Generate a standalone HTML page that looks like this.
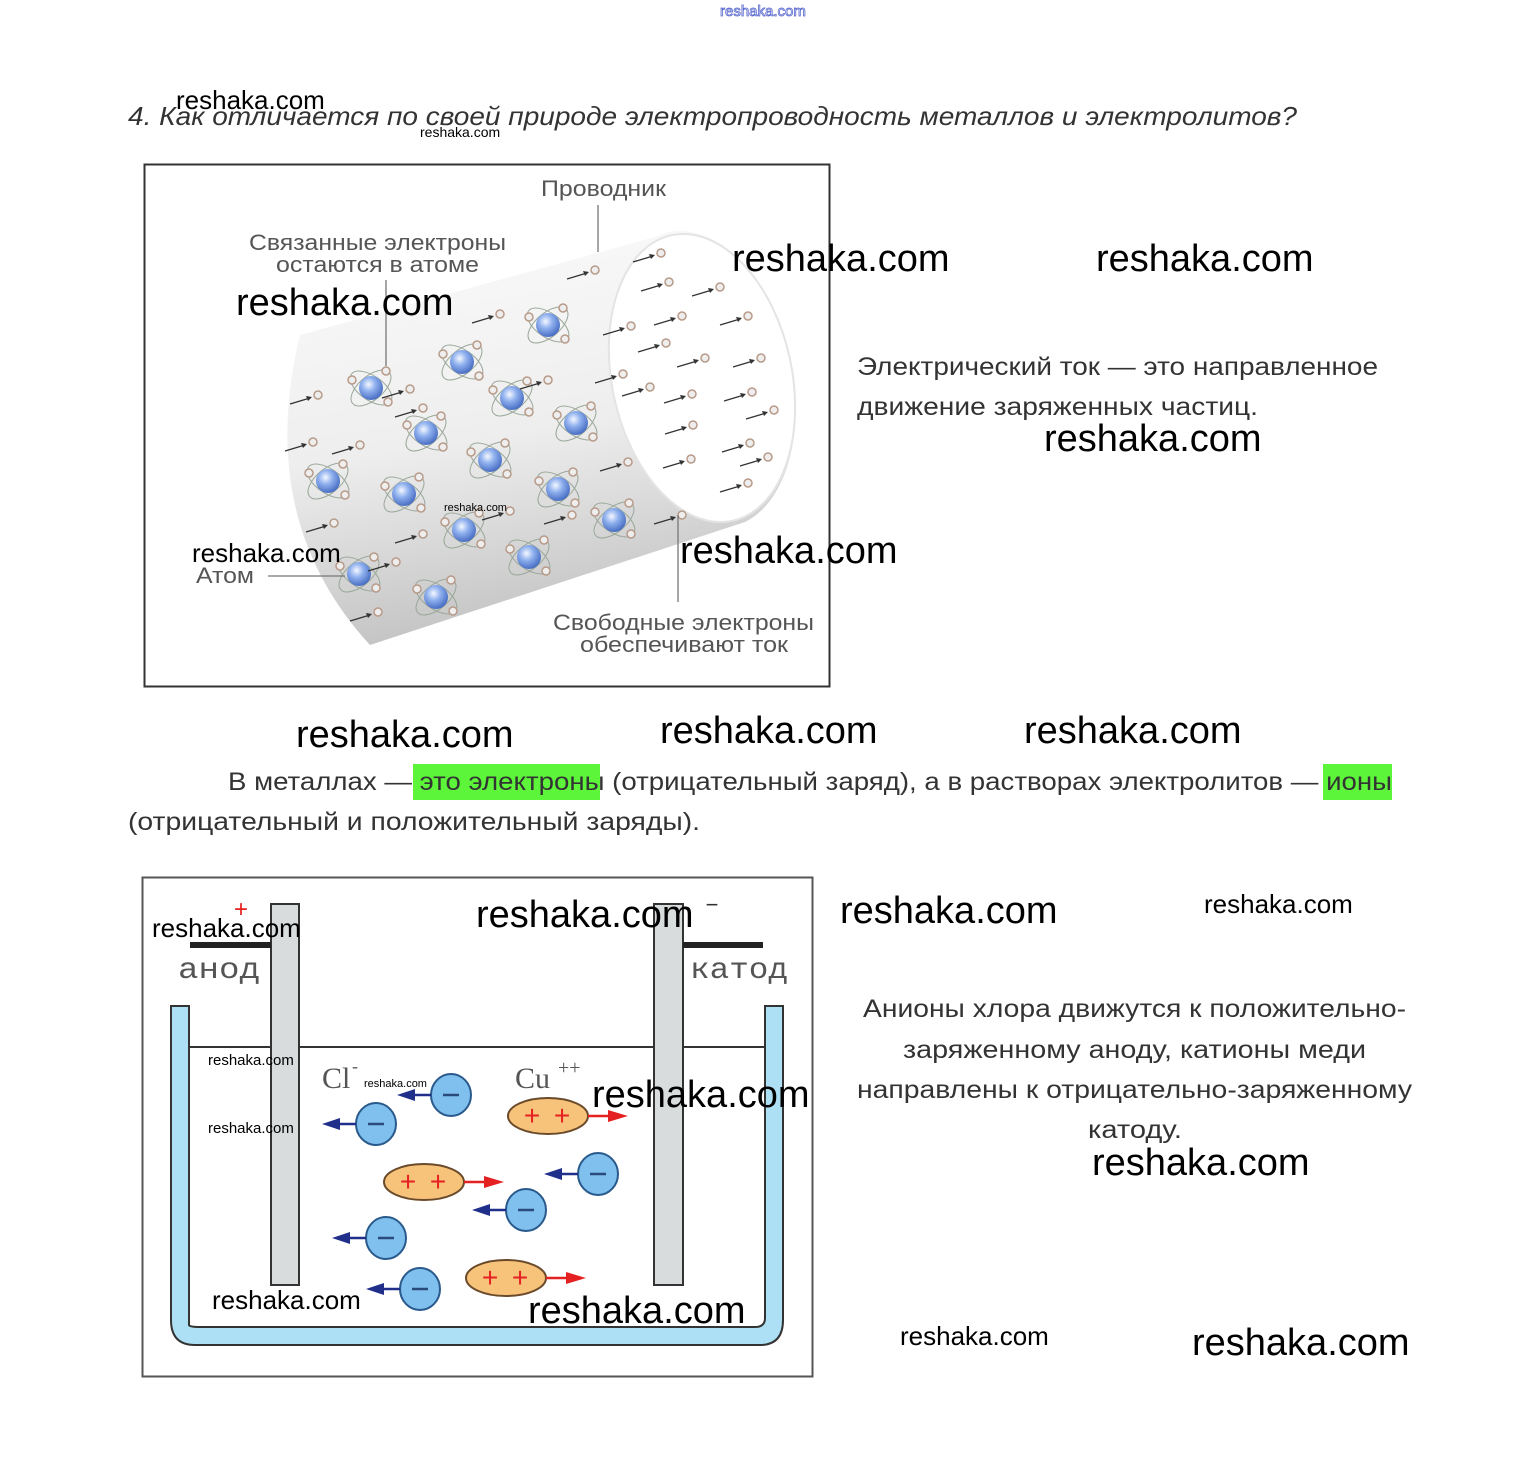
<!DOCTYPE html>
<html><head><meta charset="utf-8"><style>
html,body{margin:0;padding:0;background:#fff;}
svg{display:block;}
.s{font-family:"Liberation Sans",sans-serif;}
.m{font-family:"Liberation Mono",monospace;}
.r{font-family:"Liberation Serif",serif;}
</style></head><body>
<svg width="1537" height="1459" viewBox="0 0 1537 1459" xmlns="http://www.w3.org/2000/svg">
<defs>
<radialGradient id="nuc" cx="40%" cy="35%" r="65%"><stop offset="0" stop-color="#f4f8ff"/><stop offset=".45" stop-color="#8fb0ee"/><stop offset="1" stop-color="#4a6fc4"/></radialGradient>
<linearGradient id="cyl" x1="0" y1="0" x2="0.2" y2="1"><stop offset="0" stop-color="#fbfbfb"/><stop offset=".55" stop-color="#eeeeee"/><stop offset="1" stop-color="#c4c4c4"/></linearGradient>
<g id="atom">
<ellipse cx="0" cy="0" rx="24" ry="12" fill="none" stroke="#9aa89a" stroke-width="1" transform="rotate(35)"/>
<ellipse cx="0" cy="0" rx="24" ry="12" fill="none" stroke="#9aa89a" stroke-width="1" transform="rotate(-40)"/>
<circle r="12" fill="url(#nuc)"/>
<circle cx="-19" cy="-8" r="4" fill="#eee" stroke="#b89a88" stroke-width="1.5"/>
<circle cx="15" cy="-17" r="4" fill="#eee" stroke="#b89a88" stroke-width="1.5"/>
<circle cx="17" cy="14" r="4" fill="#eee" stroke="#b89a88" stroke-width="1.5"/>
</g>
<g id="fe">
<line x1="-30" y1="6" x2="-10" y2="0" stroke="#333" stroke-width="1.3"/>
<path d="M-8,-1 L-14,-2 L-12,3 Z" fill="#333"/>
<circle cx="-2" cy="-3" r="4" fill="#eee" stroke="#b89a88" stroke-width="1.5"/>
</g>
<g id="neg">
<ellipse rx="20" ry="21" fill="#7fc0ee" stroke="#2a5a8c" stroke-width="2"/>
<line x1="-8" y1="0" x2="8" y2="0" stroke="#2a4a7c" stroke-width="2.5"/>
<line x1="-20" y1="0" x2="-40" y2="0" stroke="#1f2f8a" stroke-width="2.5"/>
<path d="M-36,-6 L-54,0 L-36,6 Z" fill="#1f2f8a"/>
</g>
<g id="pos">
<ellipse rx="40" ry="18" fill="#f7c27a" stroke="#6a4a2a" stroke-width="2"/>
<text class="s" x="-16" y="9" font-size="28" fill="#e52020" text-anchor="middle">+</text>
<text class="s" x="14" y="9" font-size="28" fill="#e52020" text-anchor="middle">+</text>
<line x1="40" y1="0" x2="62" y2="0" stroke="#e52020" stroke-width="2.5"/>
<path d="M60,-6 L80,0 L60,6 Z" fill="#e52020"/>
</g>
</defs>
<g class="s">
<text x="720" y="16" font-size="15" fill="#fff" stroke="#5566cc" stroke-width=".8">reshaka.com</text>
<text x="128" y="125" font-size="26" font-style="italic" fill="#333" textLength="1169" lengthAdjust="spacingAndGlyphs">4. Как отличается по своей природе электропроводность металлов и электролитов?</text>

<!-- top diagram -->
<rect x="144.5" y="164.5" width="685" height="522" fill="#fff" stroke="#333" stroke-width="2"/>
<path d="M300,335 L655,237 A92,150 -12 0 1 745,522 L370,645 Q255,520 300,335 Z" fill="url(#cyl)"/>
<ellipse cx="702" cy="378" rx="90" ry="146" transform="rotate(-12 702 378)" fill="#fff" stroke="#e4e4e4" stroke-width="2"/>
<use href="#atom" x="371" y="388"/><use href="#atom" x="462" y="362"/><use href="#atom" x="548" y="325"/>
<use href="#atom" x="512" y="398"/><use href="#atom" x="576" y="423"/><use href="#atom" x="426" y="433"/>
<use href="#atom" x="490" y="460"/><use href="#atom" x="328" y="481"/><use href="#atom" x="404" y="494"/>
<use href="#atom" x="558" y="489"/><use href="#atom" x="464" y="530"/><use href="#atom" x="614" y="520"/>
<use href="#atom" x="529" y="557"/><use href="#atom" x="359" y="574"/><use href="#atom" x="436" y="597"/>
<use href="#fe" x="320" y="398"/><use href="#fe" x="315" y="445"/><use href="#fe" x="362" y="448"/>
<use href="#fe" x="412" y="392"/><use href="#fe" x="398" y="565"/><use href="#fe" x="336" y="526"/>
<use href="#fe" x="380" y="615"/><use href="#fe" x="425" y="537"/><use href="#fe" x="502" y="317"/>
<use href="#fe" x="550" y="383"/><use href="#fe" x="425" y="411"/><use href="#fe" x="512" y="514"/>
<use href="#fe" x="597" y="273"/><use href="#fe" x="625" y="377"/><use href="#fe" x="574" y="518"/>
<use href="#fe" x="684" y="518"/><use href="#fe" x="663" y="256"/><use href="#fe" x="671" y="285"/>
<use href="#fe" x="722" y="290"/><use href="#fe" x="633" y="329"/><use href="#fe" x="684" y="319"/>
<use href="#fe" x="750" y="319"/><use href="#fe" x="668" y="346"/><use href="#fe" x="652" y="390"/>
<use href="#fe" x="707" y="361"/><use href="#fe" x="763" y="361"/><use href="#fe" x="694" y="397"/>
<use href="#fe" x="754" y="395"/><use href="#fe" x="776" y="413"/><use href="#fe" x="695" y="428"/>
<use href="#fe" x="752" y="446"/><use href="#fe" x="693" y="462"/><use href="#fe" x="770" y="460"/>
<use href="#fe" x="750" y="486"/><use href="#fe" x="630" y="465"/>
<g fill="#555" font-size="22">
<text x="541" y="196" textLength="125" lengthAdjust="spacingAndGlyphs">Проводник</text>
<text x="249" y="250" textLength="257" lengthAdjust="spacingAndGlyphs">Связанные электроны</text>
<text x="276" y="272" textLength="203" lengthAdjust="spacingAndGlyphs">остаются в атоме</text>
<text x="196" y="583" textLength="58" lengthAdjust="spacingAndGlyphs">Атом</text>
<text x="553" y="630" textLength="261" lengthAdjust="spacingAndGlyphs">Свободные электроны</text>
<text x="580" y="652" textLength="208" lengthAdjust="spacingAndGlyphs">обеспечивают ток</text>
</g>
<g stroke="#777" stroke-width="1.3">
<line x1="598" y1="205" x2="598" y2="252"/><line x1="386" y1="280" x2="386" y2="366"/>
<line x1="268" y1="576" x2="345" y2="576"/><line x1="678" y1="515" x2="678" y2="602"/>
</g>

<g font-size="25" fill="#333">
<text x="857" y="375" textLength="521" lengthAdjust="spacingAndGlyphs">Электрический ток — это направленное</text>
<text x="857" y="415" textLength="401" lengthAdjust="spacingAndGlyphs">движение заряженных частиц.</text>
</g>

<rect x="413" y="764" width="187" height="36" fill="#5df53a"/>
<rect x="1323" y="764" width="69" height="36" fill="#5df53a"/>
<g font-size="25" fill="#333">
<text x="228" y="790" textLength="1164" lengthAdjust="spacingAndGlyphs">В металлах — это электроны (отрицательный заряд), а в растворах электролитов — ионы</text>
<text x="128" y="830" textLength="572" lengthAdjust="spacingAndGlyphs">(отрицательный и положительный заряды).</text>
</g>

<!-- bottom diagram -->
<rect x="142.5" y="877.5" width="670" height="499" fill="#fff" stroke="#555" stroke-width="2"/>
<path d="M171,1006 L189,1006 L189,1325 Q189,1327 200,1327 L755,1327 Q765,1327 765,1318 L765,1006 L783,1006 L783,1320 Q783,1345 760,1345 L195,1345 Q171,1345 171,1320 Z" fill="#aee0f5" stroke="#333" stroke-width="2"/>
<line x1="189" y1="1047" x2="765" y2="1047" stroke="#333" stroke-width="2"/>
<rect x="271" y="904" width="28" height="381" fill="#d8dcdc" stroke="#333" stroke-width="2"/>
<rect x="654" y="904" width="29" height="381" fill="#d8dcdc" stroke="#333" stroke-width="2"/>
<rect x="190" y="942" width="81" height="6" fill="#222"/>
<rect x="683" y="942" width="80" height="6" fill="#222"/>
<text x="241" y="917" font-size="24" fill="#e52020" text-anchor="middle">+</text>
<text x="712" y="912" font-size="22" fill="#333" text-anchor="middle">−</text>
<g fill="#555" font-size="30">
<text class="m" x="178" y="978" textLength="82" lengthAdjust="spacingAndGlyphs">анод</text>
<text class="m" x="690" y="978" textLength="98" lengthAdjust="spacingAndGlyphs">катод</text>
<text class="r" x="322" y="1088">Cl</text><text class="r" x="352" y="1072" font-size="18">-</text>
<text class="r" x="515" y="1088">Cu</text><text class="r" x="558" y="1074" font-size="20">++</text>
</g>
<use href="#neg" x="451" y="1095"/><use href="#neg" x="376" y="1124"/><use href="#neg" x="598" y="1174"/>
<use href="#neg" x="526" y="1210"/><use href="#neg" x="386" y="1238"/><use href="#neg" x="420" y="1289"/>
<use href="#pos" x="548" y="1116"/><use href="#pos" x="424" y="1182"/><use href="#pos" x="506" y="1278"/>

<g font-size="25" fill="#333">
<text x="863" y="1017" textLength="543" lengthAdjust="spacingAndGlyphs">Анионы хлора движутся к положительно-</text>
<text x="903" y="1058" textLength="463" lengthAdjust="spacingAndGlyphs">заряженному аноду, катионы меди</text>
<text x="857" y="1098" textLength="555" lengthAdjust="spacingAndGlyphs">направлены к отрицательно-заряженному</text>
<text x="1088" y="1138" textLength="94" lengthAdjust="spacingAndGlyphs">катоду.</text>
</g>

<g fill="#000">
<text x="176" y="109" font-size="26">reshaka.com</text>
<text x="420" y="137" font-size="14">reshaka.com</text>
<text x="732" y="271" font-size="38">reshaka.com</text>
<text x="1096" y="271" font-size="38">reshaka.com</text>
<text x="236" y="315" font-size="38">reshaka.com</text>
<text x="1044" y="451" font-size="38">reshaka.com</text>
<text x="444" y="511" font-size="11">reshaka.com</text>
<text x="680" y="563" font-size="38">reshaka.com</text>
<text x="192" y="562" font-size="26">reshaka.com</text>
<text x="296" y="747" font-size="38">reshaka.com</text>
<text x="660" y="743" font-size="38">reshaka.com</text>
<text x="1024" y="743" font-size="38">reshaka.com</text>
<text x="476" y="927" font-size="38">reshaka.com</text>
<text x="840" y="923" font-size="38">reshaka.com</text>
<text x="1204" y="913" font-size="26">reshaka.com</text>
<text x="152" y="937" font-size="26">reshaka.com</text>
<text x="208" y="1065" font-size="15">reshaka.com</text>
<text x="364" y="1087" font-size="11">reshaka.com</text>
<text x="208" y="1133" font-size="15">reshaka.com</text>
<text x="592" y="1107" font-size="38">reshaka.com</text>
<text x="1092" y="1175" font-size="38">reshaka.com</text>
<text x="212" y="1309" font-size="26">reshaka.com</text>
<text x="528" y="1323" font-size="38">reshaka.com</text>
<text x="900" y="1345" font-size="26">reshaka.com</text>
<text x="1192" y="1355" font-size="38">reshaka.com</text>
</g>
</g>
</svg>
</body></html>
